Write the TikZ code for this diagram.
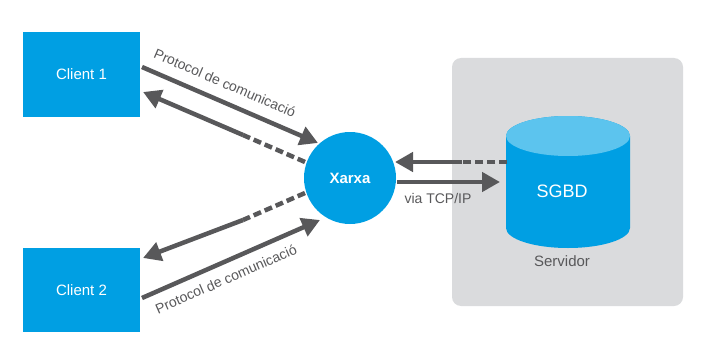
\documentclass[tikz,border=0pt]{standalone}
\usepackage{fontspec}
\setmainfont{Liberation Sans}
\usetikzlibrary{arrows.meta,calc}
\definecolor{cblue}{HTML}{009FE3}
\definecolor{clight}{HTML}{5CC4EE}
\definecolor{cgray}{HTML}{DADBDD}
\definecolor{carrow}{HTML}{58585A}
\tikzset{
  client/.style={fill=cblue,minimum width=117pt,minimum height=84pt,inner sep=0pt,text=white,font=\fontsize{15}{17}\selectfont},
  net/.style={circle,fill=cblue,minimum size=92pt,inner sep=0pt,text=white,font=\fontsize{15}{17}\selectfont\bfseries},
  link/.style={draw=carrow,line width=4.5pt},
  tip/.style={-{Triangle[length=18pt,width=19pt]}},
  dashlink/.style={draw=carrow,line width=4.5pt,dash pattern=on 8pt off 4pt},
  lbl/.style={text=carrow,font=\fontsize{14}{16}\selectfont,inner sep=0pt}
}
\begin{document}
\begin{tikzpicture}[x=1pt,y=-1pt]
\useasboundingbox (0,0) rectangle (709,361);
% server background
\fill[cgray,rounded corners=9pt] (452,58) rectangle (683,306);
% cylinder
\fill[cblue] (506,136) -- (506,228) arc (180:360:62pt and 20pt) -- (630,136) arc (0:180:62pt and 20pt) -- cycle;
\fill[clight] (568,136) ellipse (62pt and 20pt);
\node[inner sep=0pt,minimum width=124pt,minimum height=132pt] (db) at (568,182) {};
\node[text=white,font=\fontsize{18}{20}\selectfont] (sgbd) at (562,191) {SGBD};
\node[lbl,font=\fontsize{15}{17}\selectfont] (serv) at (562,261) {Servidor};
% nodes
\node[client] (c1) at (81.5,74.5) {Client 1};
\node[client] (c2) at (81.5,290) {Client 2};
\node[net] (x) at (350,178) {Xarxa};
% coordinates
\coordinate (a1s) at (142,67);
\coordinate (a1e) at (318,143);
\coordinate (b1s) at (305,162);
\coordinate (b1m) at (243,135);
\coordinate (b1e) at (143,92);
\coordinate (a2s) at (142,298);
\coordinate (a2e) at (320,220);
\coordinate (b2s) at (305,193);
\coordinate (b2m) at (243,220);
\coordinate (b2e) at (143,258);
\coordinate (r1s) at (507,162);
\coordinate (r1m) at (462,162);
\coordinate (r1e) at (395,162);
\coordinate (r2s) at (397,182);
\coordinate (r2e) at (500,182);
% arrows
\draw[link,tip] (a1s) -- (a1e);
\draw[dashlink] (b1s) -- (b1m);
\draw[link,tip] (b1m) -- (b1e);
\draw[link,tip] (a2s) -- (a2e);
\draw[dashlink] (b2s) -- (b2m);
\draw[link,tip] (b2m) -- (b2e);
\draw[dashlink] (r1s) -- (r1m);
\draw[link,tip] (r1m) -- (r1e);
\draw[link,tip] (r2s) -- (r2e);
% labels
\node[lbl,rotate=-23.4] (l1) at (225,83) {Protocol de comunicació};
\node[lbl,rotate=23.6] (l2) at (226,279) {Protocol de comunicació};
\node[lbl] (l3) at (438,198) {via TCP/IP};
\end{tikzpicture}
\end{document}
